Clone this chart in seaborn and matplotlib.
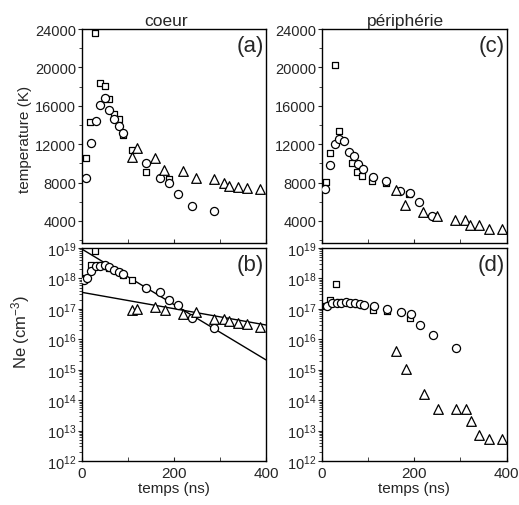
import numpy as np
import matplotlib
matplotlib.use('Agg')
import matplotlib.pyplot as plt
import seaborn as sns
from matplotlib.ticker import MultipleLocator, FixedLocator, NullFormatter

### data ###

# (a) coeur - temperature (K)
a_sq_t = [10, 19, 29, 40, 50, 60, 71, 81, 90, 109, 139, 190]
a_sq_T = [10550, 14260, 23600, 18420, 18040, 16720, 15130, 14570, 12910, 11350, 9060, 8370]
a_ci_t = [9, 20, 30, 40, 50, 60, 70, 80, 89, 140, 169, 189, 208, 239, 288]
a_ci_T = [8500, 12150, 14430, 16130, 16860, 15610, 14570, 13880, 13150, 10070, 8500, 7950, 6840, 5530, 5040]
a_tr_t = [109, 119, 159, 179, 220, 249, 288, 308, 319, 339, 358, 388]
a_tr_T = [10650, 11630, 10590, 9340, 9160, 8470, 8330, 7990, 7670, 7540, 7430, 7360]

# (c) peripherie - temperature (K)
c_sq_t = [9, 18, 28, 38, 66, 77, 88, 109, 139, 189]
c_sq_T = [8020, 11040, 20260, 13320, 10070, 9130, 8640, 8190, 7950, 6840]
c_ci_t = [8, 18, 28, 38, 49, 59, 69, 78, 89, 110, 139, 170, 190, 210, 239]
c_ci_T = [7290, 9860, 12040, 12560, 12280, 11210, 10720, 9970, 9440, 8540, 8120, 7150, 6910, 5940, 4520]
c_tr_t = [160, 180, 219, 249, 289, 309, 321, 340, 361, 390]
c_tr_T = [7180, 5630, 4940, 4520, 4140, 4140, 3620, 3620, 3130, 3130]

# (b) coeur - densite electronique (cm-3)
b_sq_t = [10, 20, 29, 40, 50, 60, 70, 80, 90, 110, 140, 190]
b_sq_N = [1.0e18, 2.75e18, 8.1e18, 2.8e18, 2.5e18, 2.2e18, 1.9e18, 1.6e18, 1.25e18, 9.1e17, 4.8e17, 2.0e17]
b_ci_t = [4, 11, 20, 30, 40, 50, 60, 70, 80, 90, 140, 169, 189, 209, 240, 288]
b_ci_N = [9.1e17, 1.0e18, 1.8e18, 2.5e18, 2.6e18, 2.75e18, 2.3e18, 1.9e18, 1.65e18, 1.35e18,
          4.7e17, 3.5e17, 1.95e17, 1.35e17, 5.0e16, 2.3e16]
b_tr_t = [109, 119, 159, 181, 220, 249, 287, 308, 319, 339, 358, 388]
b_tr_N = [8.9e16, 1.0e17, 1.15e17, 8.9e16, 6.9e16, 7.9e16, 4.8e16, 4.8e16, 4.0e16, 3.5e16, 3.2e16, 2.5e16]

# droites d'ajustement (exponentielles) dans (b)
fit1_t = [0, 400]
fit1_N = [9.3e18, 2.1e15]
fit2_t = [0, 400]
fit2_N = [3.5e17, 2.95e16]

# (d) peripherie - densite electronique (cm-3)
d_sq_t = [9, 18, 30, 38, 66, 77, 88, 111, 141, 191]
d_sq_N = [1.2e17, 1.9e17, 6.6e17, 1.7e17, 1.55e17, 1.4e17, 1.35e17, 9.3e16, 8.7e16, 4.9e16]
d_ci_t = [11, 22, 32, 42, 52, 62, 72, 82, 92, 112, 141, 172, 192, 212, 241, 290]
d_ci_N = [1.25e17, 1.55e17, 1.6e17, 1.5e17, 1.7e17, 1.6e17, 1.5e17, 1.4e17, 1.35e17, 1.2e17,
          9.8e16, 7.8e16, 6.8e16, 2.95e16, 1.4e16, 5.0e15]
d_tr_t = [161, 182, 221, 252, 291, 311, 322, 341, 361, 390]
d_tr_N = [4.2e15, 1.05e15, 1.6e14, 5.1e13, 5.1e13, 5.1e13, 2.1e13, 7.4e12, 5.2e12, 5.2e12]

titles = ['coeur', 'périphérie']
letters = ['(a)', '(c)', '(b)', '(d)']
ne_decades = [1e12, 1e13, 1e14, 1e15, 1e16, 1e17, 1e18, 1e19]

### style ###
sns.set_style('ticks')
plt.rcParams['font.family'] = ['Liberation Sans', 'DejaVu Sans']
plt.rcParams['mathtext.fontset'] = 'custom'
plt.rcParams['mathtext.rm'] = 'Liberation Sans'
plt.rcParams['mathtext.it'] = 'Liberation Sans:italic'
plt.rcParams['axes.edgecolor'] = 'black'
plt.rcParams['axes.linewidth'] = 1.0


def draw_points(ax, t, y, marker, size):
    sns.scatterplot(x=t, y=y, marker=marker, s=size, color='white',
                    edgecolor='black', linewidth=0.9, ax=ax, zorder=3)


fig = plt.figure(figsize=(5.19, 5.06), dpi=100)
ax_a = fig.add_axes([0.1574, 0.5178, 0.3551, 0.4229])
ax_c = fig.add_axes([0.6199, 0.5178, 0.3565, 0.4229])
ax_b = fig.add_axes([0.1574, 0.0870, 0.3551, 0.4209])
ax_d = fig.add_axes([0.6199, 0.0870, 0.3565, 0.4209])

# temperature
draw_points(ax_a, a_sq_t, a_sq_T, 's', 25)
draw_points(ax_a, a_ci_t, a_ci_T, 'o', 34)
draw_points(ax_a, a_tr_t, a_tr_T, '^', 48)
draw_points(ax_c, c_sq_t, c_sq_T, 's', 25)
draw_points(ax_c, c_ci_t, c_ci_T, 'o', 34)
draw_points(ax_c, c_tr_t, c_tr_T, '^', 48)

# densite
sns.lineplot(x=fit1_t, y=fit1_N, color='black', linewidth=1.0, ax=ax_b)
sns.lineplot(x=fit2_t, y=fit2_N, color='black', linewidth=1.0, ax=ax_b)
draw_points(ax_b, b_sq_t, b_sq_N, 's', 25)
draw_points(ax_b, b_ci_t, b_ci_N, 'o', 34)
draw_points(ax_b, b_tr_t, b_tr_N, '^', 48)
draw_points(ax_d, d_sq_t, d_sq_N, 's', 25)
draw_points(ax_d, d_ci_t, d_ci_N, 'o', 34)
draw_points(ax_d, d_tr_t, d_tr_N, '^', 48)

for ax in [ax_a, ax_c]:
    ax.set_ylim(1700, 24000)
    ax.yaxis.set_major_locator(MultipleLocator(4000))
    ax.yaxis.set_minor_locator(MultipleLocator(2000))
    ax.tick_params(axis='x', labelbottom=False)

minor_ne = [m * d for d in ne_decades[:-1] for m in range(2, 10)]
for ax in [ax_b, ax_d]:
    ax.set_yscale('log')
    ax.set_ylim(1e12, 1e19)
    ax.yaxis.set_major_locator(FixedLocator(ne_decades))
    ax.yaxis.set_minor_locator(FixedLocator(minor_ne))
    ax.yaxis.set_minor_formatter(NullFormatter())
    ax.set_xlabel('temps (ns)', fontsize=11, labelpad=1)

for ax, letter in zip([ax_a, ax_c, ax_b, ax_d], letters):
    ax.set_xlim(0, 400)
    ax.xaxis.set_major_locator(MultipleLocator(200))
    ax.xaxis.set_minor_locator(MultipleLocator(100))
    ax.tick_params(axis='x', which='both', direction='in', length=3, labelsize=11)
    ax.tick_params(axis='y', which='major', direction='out', length=3, labelsize=10.5, pad=1)
    ax.tick_params(axis='y', which='minor', direction='out', length=2)
    ax.set_ylabel('')
    ax.text(0.99, 0.97, letter, transform=ax.transAxes, ha='right', va='top', fontsize=16)
    for side in ['top', 'right', 'left', 'bottom']:
        ax.spines[side].set_visible(True)

ax_a.set_title(titles[0], fontsize=12.5, pad=3, x=0.46)
ax_c.set_title(titles[1], fontsize=12.5, pad=3, x=0.45)

ax_a.set_ylabel('temperature (K)', fontsize=11)
ax_b.set_ylabel('Ne (cm$^{-3}$)', fontsize=12)
ax_a.yaxis.set_label_coords(-0.27, 0.49)
ax_b.yaxis.set_label_coords(-0.27, 0.61)

fig.savefig('out.png', dpi=100)
